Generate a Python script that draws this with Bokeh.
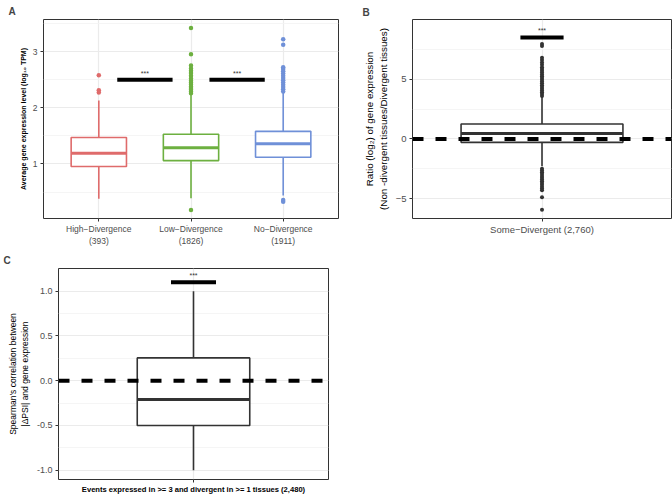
from bokeh.plotting import figure
from bokeh.models import FixedTicker, Span, Range1d, ColumnDataSource, PrintfTickFormatter
from bokeh.layouts import column, row
from bokeh.embed import file_html
from bokeh.resources import INLINE
from bokeh.core.properties import value

FONT = "Liberation Sans"

# ---------------- Panel A data ----------------
a_labels = ["High−Divergence\n(393)", "Low−Divergence\n(1826)", "No−Divergence\n(1911)"]
a_colors = ["#DF6B6B", "#6DB040", "#6F90D8"]
a_q1 = [0.955, 1.06, 1.12]
a_med = [1.19, 1.29, 1.36]
a_q3 = [1.47, 1.53, 1.58]
a_lo = [0.38, 0.39, 0.44]
a_hi = [2.13, 2.25, 2.27]
a_out_high = [2.27, 2.31, 2.58]
a_out_low = [2.26, 2.29, 2.32, 2.35, 2.38, 2.42, 2.45, 2.48, 2.52, 2.57, 2.62, 2.66, 2.70, 2.75, 2.95, 3.42, 0.18]
a_out_no = [2.29, 2.33, 2.37, 2.41, 2.45, 2.49, 2.53, 2.57, 2.61, 2.65, 2.69, 2.72, 3.12, 3.22, 0.33, 0.36]
a_sig_from = [1.2, 2.2]
a_sig_to = [1.8, 2.8]
a_sig_y = 2.5
a_yticks = [1, 2, 3]
a_yminor = [0.5, 1.5, 2.5, 3.5]

# ---------------- Panel B data ----------------
b_label = "Some−Divergent (2,760)"
b_q1, b_med, b_q3, b_lo, b_hi = -0.29, 0.44, 1.25, -2.3, 3.56
b_out = [3.6, 3.75, 3.9, 4.05, 4.2, 4.35, 4.5, 4.65, 4.8, 4.95, 5.1, 5.25, 5.4, 5.55, 5.7,
         5.85, 6.0, 6.2, 6.4, 6.6, 6.8, 7.78, 7.94,
         -2.5, -2.65, -2.8, -2.95, -3.1, -3.25, -3.4, -3.55, -3.7, -3.85, -4.0, -4.15, -4.3,
         -4.9, -5.94]
b_sig = (0.9, 1.1, 8.5)
b_yticks = [-5, 0, 5]
b_yminor = [-2.5, 2.5, 7.5]

# ---------------- Panel C data ----------------
c_label = "Events expressed in >= 3 and divergent in >= 1 tissues (2,480)"
c_q1, c_med, c_q3, c_lo, c_hi = -0.5, -0.21, 0.255, -1.0, 1.0
c_sig = (0.9, 1.1, 1.1)
c_yticks = [-1.0, -0.5, 0.0, 0.5, 1.0]
c_yminor = [-0.75, -0.25, 0.25, 0.75]


def make_fig(w, h, xr, yr, bl, br, bt, bb, letter, offset, standoff):
    p = figure(width=w, height=h, x_range=Range1d(*xr), y_range=Range1d(*yr),
               output_backend="svg", toolbar_location=None, title=letter,
               min_border_left=bl, min_border_right=br, min_border_top=bt, min_border_bottom=bb)
    p.title.text_font = FONT
    p.title.text_font_size = "10px"
    p.title.text_font_style = "bold"
    p.title.align = "left"
    p.title.offset = offset
    p.title.standoff = standoff
    p.background_fill_color = "white"
    p.border_fill_color = "white"
    p.outline_line_color = "#333333"
    p.outline_line_width = 1
    for ax in (p.xaxis, p.yaxis):
        ax.axis_line_color = None
        ax.major_tick_line_color = "#333333"
        ax.major_tick_out = 3
        ax.major_tick_in = 0
        ax.minor_tick_line_color = None
        ax.major_label_text_font = FONT
        ax.major_label_text_color = "#4d4d4d"
        ax.axis_label_text_font = FONT
        ax.axis_label_text_font_style = "normal"
        ax.axis_label_text_color = "black"
        ax.major_label_standoff = 2
    p.xgrid.grid_line_color = "#ebebeb"
    p.xgrid.grid_line_width = 1.2
    p.ygrid.grid_line_color = "#ebebeb"
    p.ygrid.grid_line_width = 1.2
    p.ygrid.minor_grid_line_color = "#f2f2f2"
    p.ygrid.minor_grid_line_width = 0.8
    return p


# ================= Panel A =================
pa = make_fig(340, 248, (0.4, 3.6), (0.03, 3.57), 43, 2, 18, 28, "A", -35, 6)
xa = [1, 2, 3]
w = 0.6
srcA = ColumnDataSource(dict(
    x=xa, left=[v - w / 2 for v in xa], right=[v + w / 2 for v in xa],
    q1=a_q1, med=a_med, q3=a_q3, lo=a_lo, hi=a_hi, color=a_colors))
pa.segment(x0="x", y0="q3", x1="x", y1="hi", line_color="color", line_width=1.6, source=srcA)
pa.segment(x0="x", y0="lo", x1="x", y1="q1", line_color="color", line_width=1.6, source=srcA)
pa.quad(left="left", right="right", bottom="q1", top="q3", fill_color="white",
        line_color="color", line_width=1.6, source=srcA)
pa.segment(x0="left", y0="med", x1="right", y1="med", line_color="color", line_width=3, source=srcA)
for xi, outs, col in zip(xa, [a_out_high, a_out_low, a_out_no], a_colors):
    pa.scatter(x=[xi] * len(outs), y=outs, size=4.5, color=col, line_width=0)
pa.segment(x0=a_sig_from, y0=[a_sig_y] * 2, x1=a_sig_to, y1=[a_sig_y] * 2,
           line_color="black", line_width=4)
pa.text(x=[(f + t) / 2 for f, t in zip(a_sig_from, a_sig_to)], y=[a_sig_y] * 2, text=["***"] * 2,
        text_align="center", text_baseline="bottom", y_offset=-3, text_font=value(FONT),
        text_font_size="7px", text_color="#333333")
pa.xaxis.ticker = FixedTicker(ticks=xa)
pa.xaxis.major_label_overrides = {i: l for i, l in zip(xa, a_labels)}
pa.xaxis.major_label_text_font_size = "8.5px"
pa.yaxis.ticker = FixedTicker(ticks=a_yticks, minor_ticks=a_yminor)
pa.yaxis.major_label_text_font_size = "8.5px"
pa.yaxis.axis_label = "Average gene expression level (log₁₀ TPM)"
pa.yaxis.axis_label_text_font_size = "7px"
pa.yaxis.axis_label_text_font_style = "bold"
pa.yaxis.axis_label_standoff = 3
pa.xgrid.ticker = FixedTicker(ticks=xa)

# ================= Panel B =================
pb = make_fig(332, 248, (0.4, 1.6), (-6.67, 10.0), 72, 1, 14, 20, "B", -50, 3)
wb = 0.75
pb.segment(x0=[1, 1], y0=[b_q3, b_lo], x1=[1, 1], y1=[b_hi, b_q1], line_color="#333333", line_width=1.6)
pb.quad(left=[1 - wb / 2], right=[1 + wb / 2], bottom=[b_q1], top=[b_q3], fill_color="white",
        line_color="#333333", line_width=1.6)
pb.segment(x0=[1 - wb / 2], y0=[b_med], x1=[1 + wb / 2], y1=[b_med], line_color="#333333", line_width=3)
pb.scatter(x=[1] * len(b_out), y=b_out, size=4, color="#333333", line_width=0)
pb.add_layout(Span(location=0, dimension="width", line_color="black", line_width=4, line_dash="11 12"))
pb.segment(x0=[b_sig[0]], y0=[b_sig[2]], x1=[b_sig[1]], y1=[b_sig[2]], line_color="black", line_width=4)
pb.text(x=[1], y=[b_sig[2]], text=["***"], text_align="center", text_baseline="bottom", y_offset=-3,
        text_font=value(FONT), text_font_size="7px", text_color="#333333")
pb.xaxis.ticker = FixedTicker(ticks=[1])
pb.xaxis.major_label_overrides = {1: b_label}
pb.xaxis.major_label_text_font_size = "9.5px"
pb.yaxis.ticker = FixedTicker(ticks=b_yticks, minor_ticks=b_yminor)
pb.yaxis.major_label_text_font_size = "9.5px"
pb.yaxis.axis_label = "Ratio (log₂) of gene expression\n(Non -divergent tissues/Divergent tissues)"
pb.yaxis.axis_label_text_font_size = "9.8px"
pb.yaxis.axis_label_standoff = 4
pb.xgrid.ticker = FixedTicker(ticks=[1])

# ================= Panel C =================
pc = make_fig(340, 249, (0.4, 1.6), (-1.104, 1.254), 58, 12, 20, 18, "C", -55, 6)
wc = 0.5
pc.segment(x0=[1, 1], y0=[c_q3, c_lo], x1=[1, 1], y1=[c_hi, c_q1], line_color="#333333", line_width=1.6)
pc.quad(left=[1 - wc / 2], right=[1 + wc / 2], bottom=[c_q1], top=[c_q3], fill_color="white",
        line_color="#333333", line_width=1.6)
pc.segment(x0=[1 - wc / 2], y0=[c_med], x1=[1 + wc / 2], y1=[c_med], line_color="#333333", line_width=3)
pc.add_layout(Span(location=0, dimension="width", line_color="black", line_width=4, line_dash="11 12"))
pc.segment(x0=[c_sig[0]], y0=[c_sig[2]], x1=[c_sig[1]], y1=[c_sig[2]], line_color="black", line_width=4)
pc.text(x=[1], y=[c_sig[2]], text=["***"], text_align="center", text_baseline="bottom", y_offset=-3,
        text_font=value(FONT), text_font_size="7px", text_color="#333333")
pc.xaxis.ticker = FixedTicker(ticks=[1])
pc.xaxis.major_label_overrides = {1: c_label}
pc.xaxis.major_label_text_font_size = "7.6px"
pc.xaxis.major_label_text_font_style = "bold"
pc.xaxis.major_label_text_color = "black"
pc.yaxis.ticker = FixedTicker(ticks=c_yticks, minor_ticks=c_yminor)
pc.yaxis.formatter = PrintfTickFormatter(format="%.1f")
pc.yaxis.major_label_text_font_size = "9px"
pc.yaxis.axis_label = "Spearman's correlation between\n|ΔPSI| and gene expression"
pc.yaxis.axis_label_text_font_size = "8.5px"
pc.yaxis.axis_label_standoff = 4
pc.xgrid.ticker = FixedTicker(ticks=[1])

layout = column(row(pa, pb), pc)
open("out.html", "w").write(file_html(layout, INLINE))
